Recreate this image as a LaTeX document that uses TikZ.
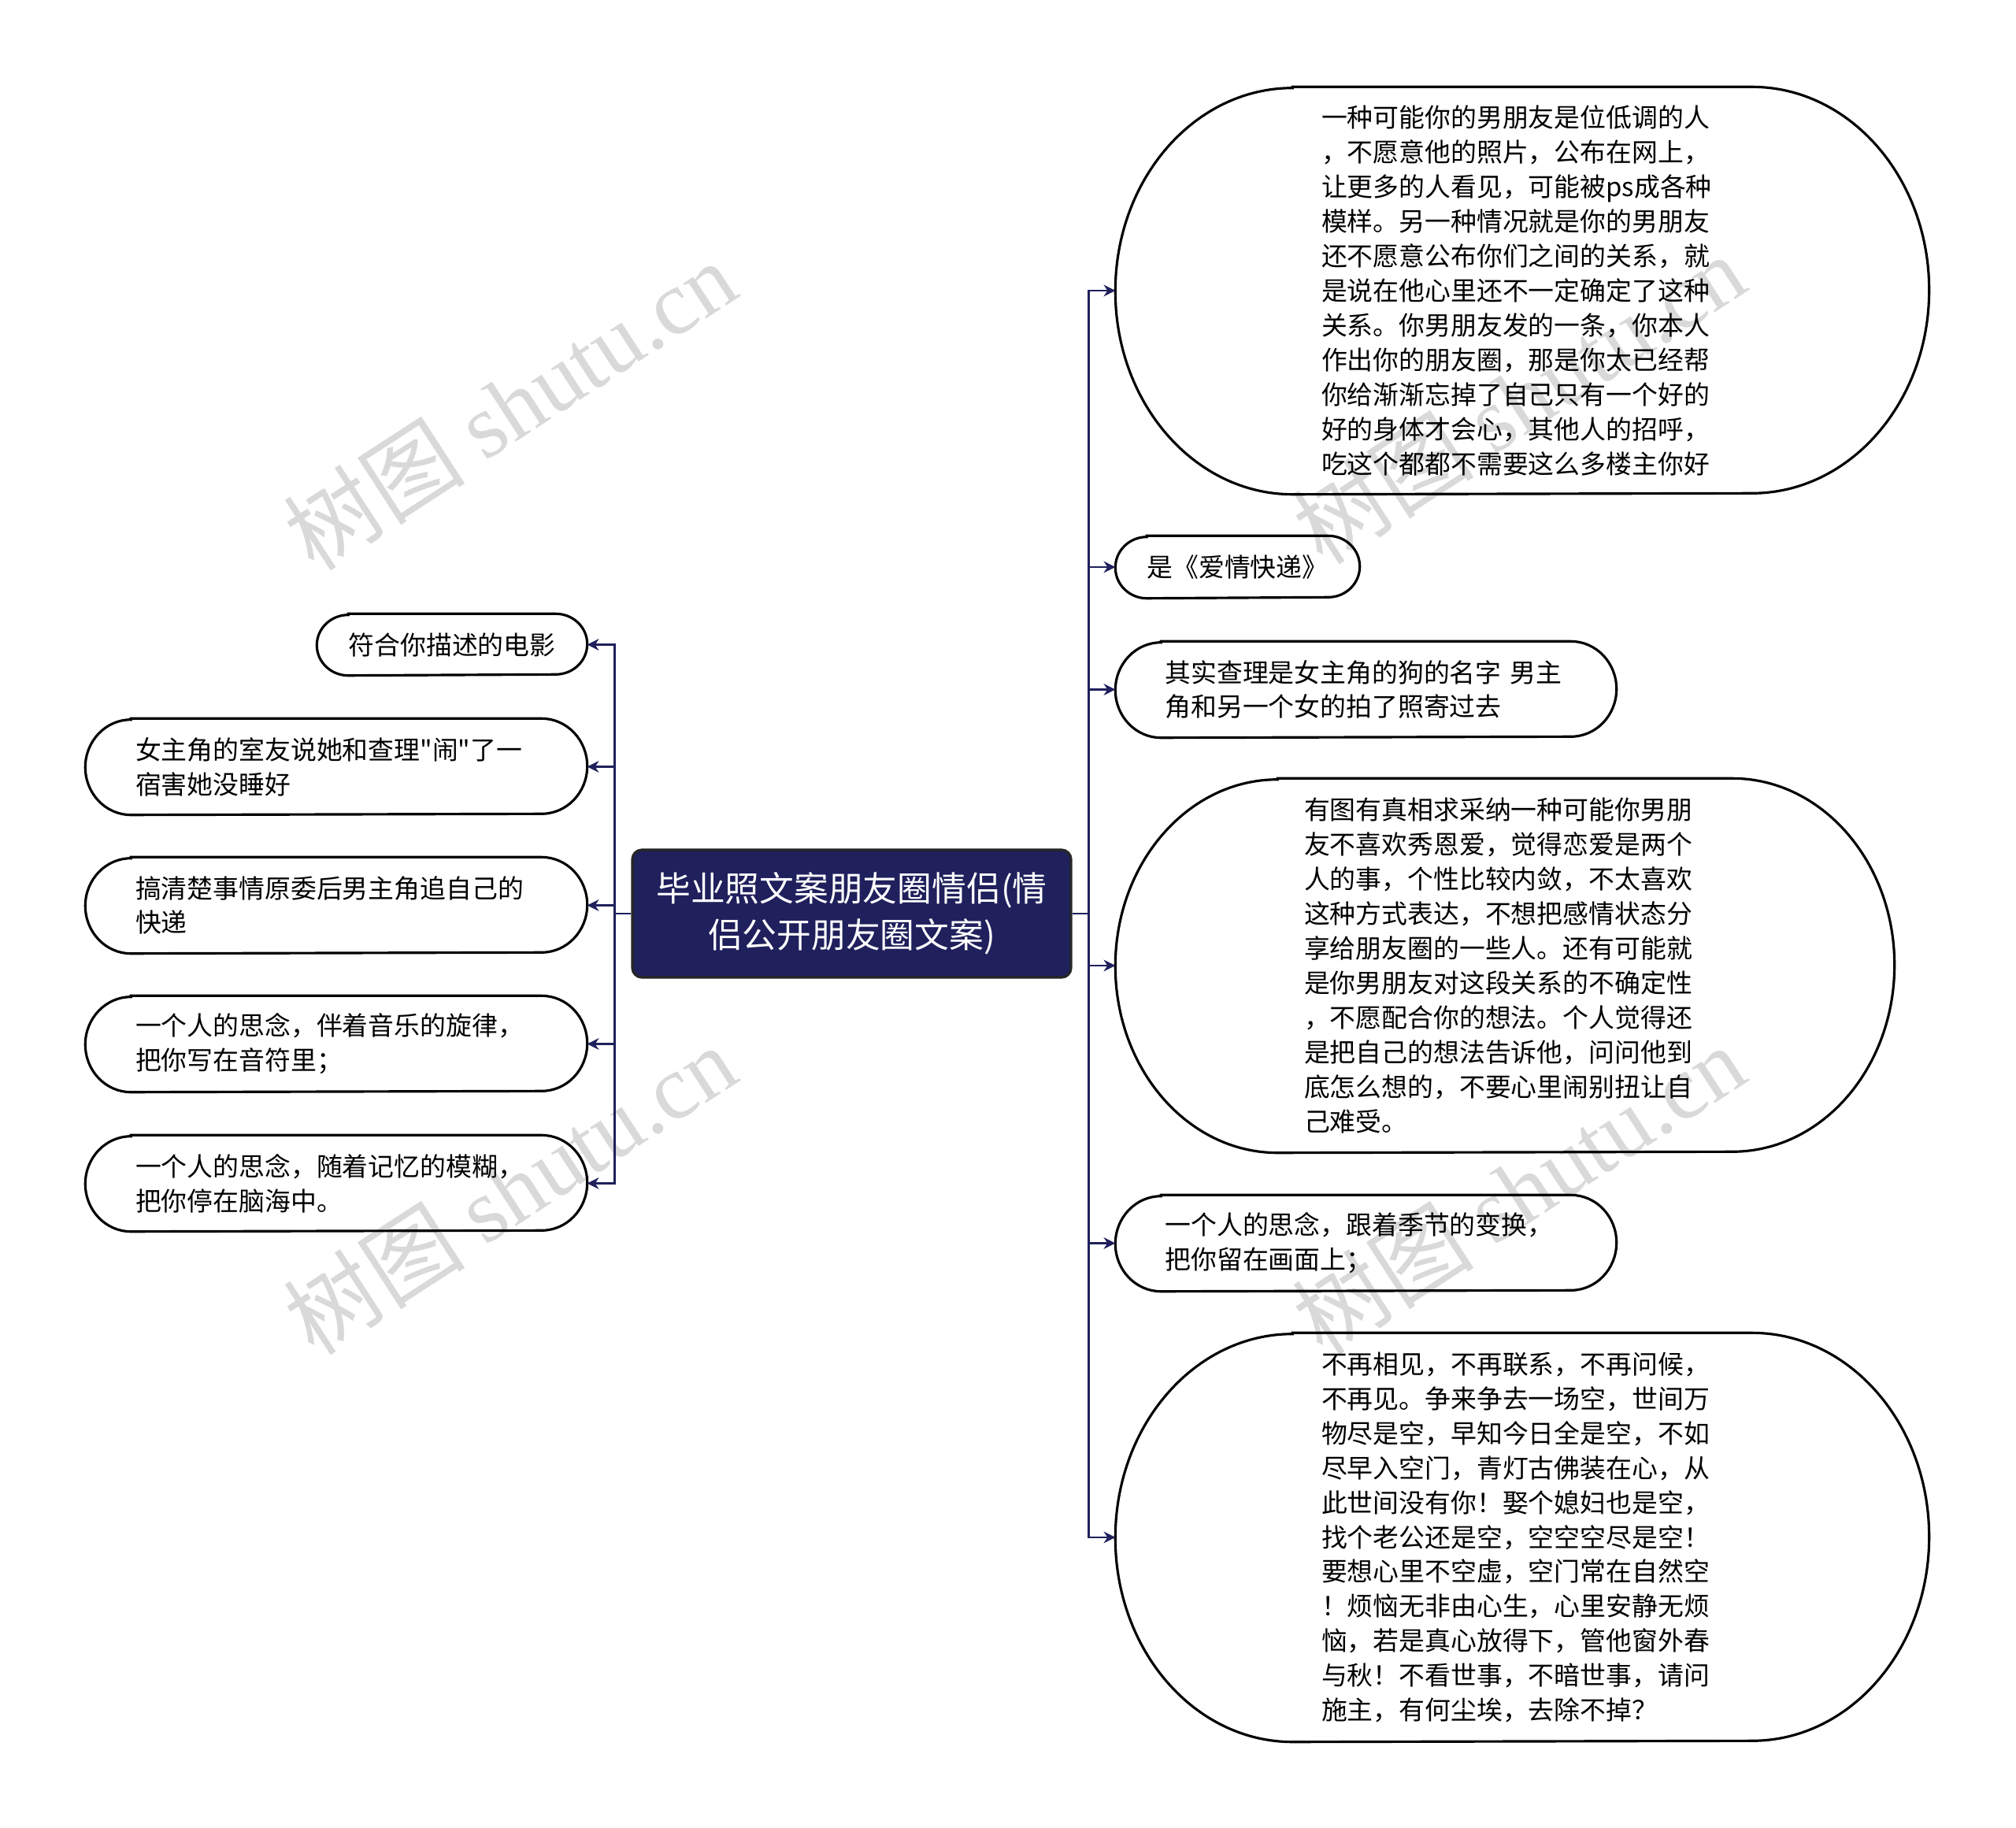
\documentclass[tikz,border=0pt]{standalone}
\usepackage{fontspec}
\newfontfamily\cjk{Noto Sans CJK SC}
\newfontfamily\wmfont{Liberation Serif}
\usetikzlibrary{arrows.meta}
\definecolor{navy}{RGB}{31,32,92}
\tikzset{
  leaf/.style={font=\cjk\fontsize{9.35}{12.5}\selectfont, inner sep=0pt, text width=5.1cm, align=left},
  leafone/.style={font=\cjk\fontsize{9.35}{12.5}\selectfont, inner sep=0pt, align=center},
  rootbox/.style={fill=navy, draw=black!85, line width=0.9pt, rounded corners=0.12cm, text=white,
    font=\cjk\fontsize{12.45}{16.7}\selectfont, inner sep=0pt, align=center},
  leafline/.style={draw=black, line width=0.9pt},
  stem/.style={navy, line width=0.8pt},
  link/.style={stem, -{Stealth[length=4.2pt,width=4.2pt]}},
  wmtext/.style={rotate=33, text=black!15, font=\cjk\fontsize{33}{33}\selectfont}
}
% capsule outline round a node: name, x radius, y radius (cm)
\newcommand\capsule[3]{\draw[leafline] ([xshift=#2cm]#1.north west) -- ([xshift=-#2cm]#1.north east)
  arc[start angle=90,end angle=-90,x radius=#2,y radius=#3] -- ([xshift=#2cm]#1.south west)
  arc[start angle=270,end angle=90,x radius=#2,y radius=#3] -- cycle;}
\begin{document}
\begin{tikzpicture}
  \useasboundingbox (0,0) rectangle (25.6,-23.21);
  % watermark
  \node[wmtext] (wm1) at (6.47,-5.14) {树图 {\wmfont shutu.cn}};
  \node[wmtext] (wm2) at (6.47,-15.10) {树图 {\wmfont shutu.cn}};
  \node[wmtext] (wm3) at (19.28,-5.06) {树图 {\wmfont shutu.cn}};
  \node[wmtext] (wm4) at (19.28,-15.10) {树图 {\wmfont shutu.cn}};
  % root
  \node[rootbox, minimum width=5.57cm, minimum height=1.62cm] (root) at (10.815,-11.60)
    {毕业照文案朋友圈情侣(情\\侣公开朋友圈文案)};
  % left side
  \node[leafone, minimum width=3.42cm, minimum height=0.77cm] (l1) at (5.74,-8.185) {符合你描述的电影};
  \node[leaf, minimum width=6.36cm, minimum height=1.21cm] (l2) at (4.27,-9.735)
    {女主角的室友说她和查理"闹"了一\\宿害她没睡好};
  \node[leaf, minimum width=6.36cm, minimum height=1.21cm] (l3) at (4.27,-11.495)
    {搞清楚事情原委后男主角追自己的\\快递};
  \node[leaf, minimum width=6.36cm, minimum height=1.21cm] (l4) at (4.27,-13.255)
    {一个人的思念，伴着音乐的旋律，\\把你写在音符里；};
  \node[leaf, minimum width=6.36cm, minimum height=1.21cm] (l5) at (4.27,-15.025)
    {一个人的思念，随着记忆的模糊，\\把你停在脑海中。};
  % right side
  \node[leaf, minimum width=10.32cm, minimum height=5.16cm] (r1) at (19.33,-3.69)
    {一种可能你的男朋友是位低调的人\\，不愿意他的照片，公布在网上，\\让更多的人看见，可能被ps成各种\\模样。另一种情况就是你的男朋友\\还不愿意公布你们之间的关系，就\\是说在他心里还不一定确定了这种\\关系。你男朋友发的一条，你本人\\作出你的朋友圈，那是你太已经帮\\你给渐渐忘掉了自己只有一个好的\\好的身体才会心，其他人的招呼，\\吃这个都都不需要这么多楼主你好};
  \node[leafone, minimum width=3.09cm, minimum height=0.78cm] (r2) at (15.715,-7.20) {是《爱情快递》};
  \node[leaf, minimum width=6.35cm, minimum height=1.21cm] (r3) at (17.345,-8.755)
    {其实查理是女主角的狗的名字 男主\\角和另一个女的拍了照寄过去};
  \node[leaf, minimum width=9.88cm, minimum height=4.74cm] (r4) at (19.11,-12.26)
    {有图有真相求采纳一种可能你男朋\\友不喜欢秀恩爱，觉得恋爱是两个\\人的事，个性比较内敛，不太喜欢\\这种方式表达，不想把感情状态分\\享给朋友圈的一些人。还有可能就\\是你男朋友对这段关系的不确定性\\，不愿配合你的想法。个人觉得还\\是把自己的想法告诉他，问问他到\\底怎么想的，不要心里闹别扭让自\\己难受。};
  \node[leaf, minimum width=6.35cm, minimum height=1.21cm] (r5) at (17.345,-15.785)
    {一个人的思念，跟着季节的变换，\\把你留在画面上；};
  \node[leaf, minimum width=10.32cm, minimum height=5.18cm] (r6) at (19.33,-19.52)
    {不再相见，不再联系，不再问候，\\不再见。争来争去一场空，世间万\\物尽是空，早知今日全是空，不如\\尽早入空门，青灯古佛装在心，从\\此世间没有你！娶个媳妇也是空，\\找个老公还是空，空空空尽是空！\\要想心里不空虚，空门常在自然空\\！烦恼无非由心生，心里安静无烦\\恼，若是真心放得下，管他窗外春\\与秋！不看世事，不暗世事，请问\\施主，有何尘埃，去除不掉？};
  % outlines
  \capsule{l1}{0.40}{0.385} \capsule{l2}{0.58}{0.605} \capsule{l3}{0.58}{0.605}
  \capsule{l4}{0.58}{0.605} \capsule{l5}{0.58}{0.605}
  \capsule{r1}{2.25}{2.58} \capsule{r2}{0.40}{0.39} \capsule{r3}{0.58}{0.605}
  \capsule{r4}{2.06}{2.37} \capsule{r5}{0.58}{0.605} \capsule{r6}{2.25}{2.59}
  % connectors
  \coordinate (rspine) at ([xshift=0.21cm]root.east);
  \coordinate (lspine) at ([xshift=-0.21cm]root.west);
  \draw[stem] (root.east) -- (rspine) (root.west) -- (lspine);
  \draw[link] (lspine) |- (l1.east); \draw[link] (lspine) |- (l2.east);
  \draw[link] (lspine) |- (l3.east); \draw[link] (lspine) |- (l4.east);
  \draw[link] (lspine) |- (l5.east);
  \draw[link] (rspine) |- (r1.west); \draw[link] (rspine) |- (r2.west);
  \draw[link] (rspine) |- (r3.west); \draw[link] (rspine) |- (r4.west);
  \draw[link] (rspine) |- (r5.west); \draw[link] (rspine) |- (r6.west);
\end{tikzpicture}
\end{document}
